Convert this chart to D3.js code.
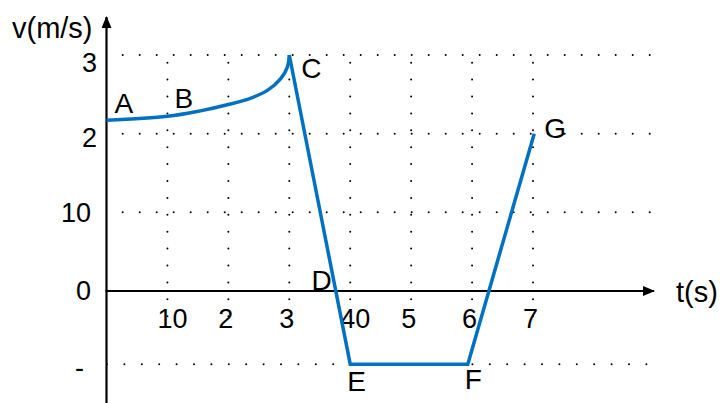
<!DOCTYPE html>
<html>
<head>
<meta charset="utf-8">
<script src="https://cdn.jsdelivr.net/npm/d3@7"></script>
<style>
  html, body { margin: 0; padding: 0; background: #fff; }
  svg { display: block; font-family: "Liberation Sans", Arial, sans-serif; }
</style>
</head>
<body>
<svg id="chart" width="720" height="403"></svg>
<script>
// Velocity–time graph: curved rise A→C, steep drop through D to E, flat E→F, rise to G.
const curveT = [0, 1, 1.54, 2, 2.36, 2.64, 2.86, 2.97, 3];
const curveV = [2.17, 2.22, 2.29, 2.37, 2.45, 2.55, 2.70, 2.85, 3.0];

const lineT = [3, 4, 5.93, 7.02];
const lineV = [3, -0.93, -0.93, 2];

const xTickValues = [1, 2, 3, 4, 5, 6, 7];
const xTickLabels = ["10", "2", "3", "40", "5", "6", "7"];

const yTickValues = [3, 2, 1, 0, -0.93];
const yTickLabels = ["3", "2", "10", "0", "-"];

const pointNames = ["A", "B", "C", "D", "E", "F", "G"];
const pointT = [0, 1, 3, 3.76, 4, 5.93, 7.02];
const pointV = [2.17, 2.22, 3, 0, -0.93, -0.93, 2];

const svg = d3.select("#chart");

const x = d3.scaleLinear().domain([0, 7]).range([106.5, 533]);
const y = d3.scaleLinear().domain([0, 3]).range([291, 55]);

const blue = "#0070c0";

// dotted grid: horizontal rows
const gridRows = svg.append("g");
yTickValues.forEach(v => {
  if (v === 0) return;
  const neg = v < 0;
  gridRows.append("line")
    .attr("x1", neg ? 107 : 122.7).attr("x2", 651)
    .attr("y1", y(v)).attr("y2", y(v))
    .attr("stroke", "#000").attr("stroke-width", 2)
    .attr("stroke-linecap", "round")
    .attr("stroke-dasharray", neg ? "0 17.4" : "0 17");
});

// dotted grid: vertical columns
const gridCols = svg.append("g");
xTickValues.forEach(t => {
  gridCols.append("line")
    .attr("x1", x(t)).attr("x2", x(t))
    .attr("y1", 62.7).attr("y2", 318)
    .attr("stroke", "#000").attr("stroke-width", 2)
    .attr("stroke-linecap", "round")
    .attr("stroke-dasharray", "0 16.9");
});

// arrow markers for axes
const defs = svg.append("defs");
defs.append("marker")
  .attr("id", "arrow")
  .attr("viewBox", "0 0 12 10")
  .attr("refX", 11).attr("refY", 5)
  .attr("markerWidth", 12).attr("markerHeight", 10)
  .attr("markerUnits", "userSpaceOnUse")
  .attr("orient", "auto")
  .append("path").attr("d", "M0,0 L12,5 L0,10 Z").attr("fill", "#000");

// x axis
svg.append("line")
  .attr("x1", x(0) - 1).attr("x2", 654)
  .attr("y1", y(0)).attr("y2", y(0))
  .attr("stroke", "#000").attr("stroke-width", 2.2)
  .attr("marker-end", "url(#arrow)");

// y axis
svg.append("line")
  .attr("x1", x(0)).attr("x2", x(0))
  .attr("y1", 403).attr("y2", 17)
  .attr("stroke", "#000").attr("stroke-width", 2.2)
  .attr("marker-end", "url(#arrow)");

// axis titles
svg.append("text").attr("x", 12).attr("y", 38)
  .attr("font-size", 29).attr("fill", "#000").text("v(m/s)");
svg.append("text").attr("x", 676).attr("y", 302)
  .attr("font-size", 29).attr("fill", "#000").text("t(s)");

// x tick labels
svg.append("g").selectAll("text")
  .data(xTickValues)
  .join("text")
  .attr("x", d => x(d) - 10)
  .attr("y", 328)
  .attr("font-size", 27)
  .attr("text-anchor", "start")
  .attr("fill", "#000")
  .text((d, i) => xTickLabels[i]);

// y tick labels
const yLabelRight = [97, 97, 91, 91, 84];
const yLabelBase = [72, 147, 222, 300, 377];
svg.append("g").selectAll("text")
  .data(yTickValues)
  .join("text")
  .attr("x", (d, i) => yLabelRight[i])
  .attr("y", (d, i) => y(d) + (yLabelBase[i] - y(yTickValues[i])))
  .attr("font-size", 27)
  .attr("text-anchor", "end")
  .attr("fill", "#000")
  .text((d, i) => yTickLabels[i]);

// velocity curve
const curvePts = curveT.map((t, i) => [t, curveV[i]]);
svg.append("path")
  .attr("d", d3.line().x(d => x(d[0])).y(d => y(d[1])).curve(d3.curveCatmullRom.alpha(0.5))(curvePts))
  .attr("fill", "none").attr("stroke", blue).attr("stroke-width", 3.5);

const linePts = lineT.map((t, i) => [t, lineV[i]]);
svg.append("path")
  .attr("d", d3.line().x(d => x(d[0])).y(d => y(d[1]))(linePts))
  .attr("fill", "none").attr("stroke", blue).attr("stroke-width", 3.5)
  .attr("stroke-linejoin", "miter");

// point labels
const labelDx = [8, 7, 12, -24, -3, -3, 10];
const labelDy = [-7, -8, 23, -1, 27, 25, 4];
svg.append("g").selectAll("text")
  .data(pointNames)
  .join("text")
  .attr("x", (d, i) => x(pointT[i]) + labelDx[i])
  .attr("y", (d, i) => y(pointV[i]) + labelDy[i])
  .attr("font-size", 28)
  .attr("fill", "#000")
  .text(d => d);
</script>
</body>
</html>
